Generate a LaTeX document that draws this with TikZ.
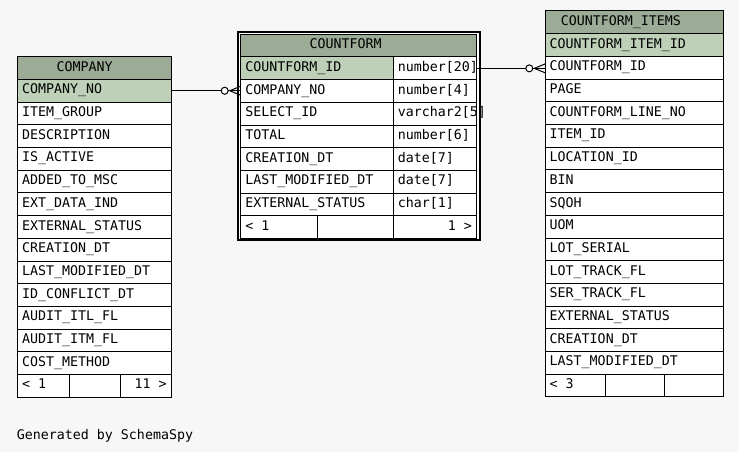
\documentclass[tikz,border=0pt]{standalone}
\usepackage{fontspec}
\newfontfamily\monof{DejaVu Sans Mono}
\definecolor{hdr}{HTML}{9BAB96}
\definecolor{pk}{HTML}{BED1B8}
\definecolor{bg}{HTML}{F7F7F7}
\begin{document}
\begin{tikzpicture}[x=1pt,y=-1pt,
  cell/.style={draw=black, line width=1pt, fill=white, inner sep=0pt, outer sep=0pt, anchor=north west, minimum height=22.7pt},
  txt/.style={font=\monof\fontsize{13.3}{16}\selectfont, anchor=base west, inner sep=0pt, text=black},
  txth/.style={txt, anchor=base},
  frame/.style={draw=black, line width=2pt, fill=white, inner sep=0pt, outer sep=0pt, anchor=north west},
  conn/.style={draw=black, line width=1pt}
]
\fill[bg] (0,0) rectangle (739,452);
\useasboundingbox (0,0) rectangle (739,452);

% ---------------- COMPANY
\node[cell, fill=hdr, minimum width=154pt] (company) at (17.3,56.7) {};
\node[txth] (companyt) at (84.7,71.1) {COMPANY};
\foreach [count=\i] \n/\c in {COMPANY\_NO/pk, ITEM\_GROUP/white, DESCRIPTION/white, IS\_ACTIVE/white, ADDED\_TO\_MSC/white, EXT\_DATA\_IND/white, EXTERNAL\_STATUS/white, CREATION\_DT/white, LAST\_MODIFIED\_DT/white, ID\_CONFLICT\_DT/white, AUDIT\_ITL\_FL/white, AUDIT\_ITM\_FL/white, COST\_METHOD/white}{
  \node[cell, fill=\c, minimum width=154pt] (co\i) at (17.3,56.7+22.7*\i) {};
  \node[txt] (cot\i) at ([xshift=4.6pt,yshift=-14.4pt]co\i.north west) {\n};
}
\node[cell, minimum width=52pt] (cof1) at (17.3,374.5) {};
\node[cell, minimum width=51pt] (cof2) at (69.3,374.5) {};
\node[cell, minimum width=51pt] (cof3) at (120.3,374.5) {};
\node[txt] (coft1) at ([xshift=4.6pt,yshift=-14.4pt]cof1.north west) {< 1};
\node[txt, anchor=base east] (coft3) at ([xshift=-4.5pt,yshift=-14.4pt]cof3.north east) {11 >};

% ---------------- COUNTFORM
\node[frame, minimum width=242pt, minimum height=208pt] (cfframe) at (238,32) {};
\node[cell, fill=hdr, minimum width=236pt] (countform) at (240.7,34.3) {};
\node[txth] (countformt) at (345.7,48.7) {COUNTFORM};
\foreach [count=\i] \n/\t/\c in {COUNTFORM\_ID/number[20]/pk, COMPANY\_NO/number[4]/white, SELECT\_ID/varchar2[5]/white, TOTAL/number[6]/white, CREATION\_DT/date[7]/white, LAST\_MODIFIED\_DT/date[7]/white, EXTERNAL\_STATUS/char[1]/white}{
  \node[cell, fill=\c, minimum width=152.6pt] (cfn\i) at (240.7,34.3+22.7*\i) {};
  \node[cell, minimum width=83.4pt] (cft\i) at (393.3,34.3+22.7*\i) {};
  \node[txt] (cfnt\i) at ([xshift=4.4pt,yshift=-14.4pt]cfn\i.north west) {\n};
  \node[txt] (cftt\i) at ([xshift=4.4pt,yshift=-14.4pt]cft\i.north west) {\t};
}
\node[cell, minimum width=76.6pt] (cff1) at (240.7,215.9) {};
\node[cell, minimum width=76pt] (cff2) at (317.3,215.9) {};
\node[cell, minimum width=83.4pt] (cff3) at (393.3,215.9) {};
\node[txt] (cfft1) at ([xshift=4.4pt,yshift=-14.4pt]cff1.north west) {< 1};
\node[txt, anchor=base east] (cfft3) at ([xshift=-4.5pt,yshift=-14.4pt]cff3.north east) {1 >};

% ---------------- COUNTFORM_ITEMS
\node[cell, fill=hdr, minimum width=178pt] (items) at (545.3,11) {};
\node[txth] (itemst) at (620.8,25.4) {COUNTFORM\_ITEMS};
\foreach [count=\i] \n/\c in {COUNTFORM\_ITEM\_ID/pk, COUNTFORM\_ID/white, PAGE/white, COUNTFORM\_LINE\_NO/white, ITEM\_ID/white, LOCATION\_ID/white, BIN/white, SQOH/white, UOM/white, LOT\_SERIAL/white, LOT\_TRACK\_FL/white, SER\_TRACK\_FL/white, EXTERNAL\_STATUS/white, CREATION\_DT/white, LAST\_MODIFIED\_DT/white}{
  \node[cell, fill=\c, minimum width=178pt] (it\i) at (545.3,11+22.7*\i) {};
  \node[txt] (itt\i) at ([xshift=4.2pt,yshift=-14.4pt]it\i.north west) {\n};
}
\node[cell, minimum width=60.4pt] (itf1) at (545.3,374.2) {};
\node[cell, minimum width=58.6pt] (itf2) at (605.7,374.2) {};
\node[cell, minimum width=59pt] (itf3) at (664.3,374.2) {};
\node[txt] (itft1) at ([xshift=4.2pt,yshift=-14.4pt]itf1.north west) {< 3};

% ---------------- connectors
\coordinate (e1) at (co1.east -| cfn2.west);
\draw[conn] (co1.east) -- (e1);
\draw[conn, fill=white] ([xshift=-16pt]e1) circle[radius=3.5pt];
\draw[conn] ([xshift=-11pt]e1) -- ([yshift=4.5pt]e1)
            ([xshift=-11pt]e1) -- ([yshift=-4.5pt]e1);

\coordinate (e2) at (cft1.east -| it2.west);
\draw[conn] (cft1.east) -- (e2);
\draw[conn, fill=white] ([xshift=-16pt]e2) circle[radius=3.5pt];
\draw[conn] ([xshift=-11pt]e2) -- ([yshift=4.5pt]e2)
            ([xshift=-11pt]e2) -- ([yshift=-4.5pt]e2);

\node[txt] (gen) at (16.7,439) {Generated by SchemaSpy};
\end{tikzpicture}
\end{document}
